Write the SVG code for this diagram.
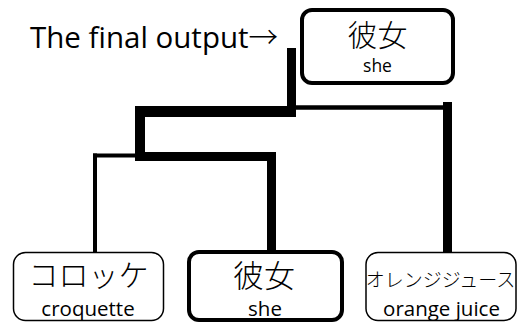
<svg xmlns="http://www.w3.org/2000/svg" width="517" height="323" viewBox="0 0 517 323">
<style>
text{font-family:"Open Sans","Noto Sans","Noto Sans CJK JP",sans-serif;font-weight:400;fill:#000;text-anchor:middle}
.jp{font-family:"Noto Sans CJK JP",sans-serif;font-weight:300}
.thin{fill:#fff;stroke:#000;stroke-width:1.5}
.bold{fill:#fff;stroke:#000;stroke-width:4}
.c{stroke:#000;fill:none;stroke-linecap:butt}
</style>
<rect width="517" height="323" fill="#fff"/>
<text x="30" y="48" font-size="29.5" style="text-anchor:start">The final output<tspan class="jp">→</tspan></text>
<g id="connectors">
<line class="c" x1="291.5" y1="48" x2="291.5" y2="117" stroke-width="9"/>
<line class="c" x1="135" y1="111.5" x2="296" y2="111.5" stroke-width="11"/>
<line class="c" x1="296" y1="107.5" x2="452" y2="107.5" stroke-width="4.5"/>
<line class="c" x1="447.5" y1="102" x2="447.5" y2="252" stroke-width="9"/>
<line class="c" x1="140" y1="106" x2="140" y2="161" stroke-width="10"/>
<line class="c" x1="135" y1="156.5" x2="276" y2="156.5" stroke-width="9"/>
<line class="c" x1="271.5" y1="152" x2="271.5" y2="252" stroke-width="9"/>
<line class="c" x1="93" y1="155.5" x2="135" y2="155.5" stroke-width="4"/>
<line class="c" x1="95" y1="153.5" x2="95" y2="253" stroke-width="4"/>
</g>
<g id="root">
<rect class="bold" x="302" y="10" width="151" height="73" rx="10"/>
<text class="jp" x="377.5" y="46" font-size="30">彼女</text>
<text x="377.5" y="72" font-size="17.5">she</text>
</g>
<g id="croquette">
<rect class="thin" x="13.5" y="252.5" width="150" height="68" rx="12"/>
<text class="jp" x="88.5" y="286" font-size="30">コロッケ</text>
<text x="88" y="316" font-size="20.5">croquette</text>
</g>
<g id="she">
<rect class="bold" x="189" y="252" width="153" height="68" rx="10"/>
<text class="jp" x="264" y="287" font-size="31">彼女</text>
<text x="265" y="316" font-size="20.5">she</text>
</g>
<g id="juice">
<rect class="thin" x="366" y="252.5" width="150" height="68" rx="12"/>
<text class="jp" x="440.5" y="287" font-size="19">オレンジジュース</text>
<text x="441.5" y="316" font-size="20.5">orange juice</text>
</g>
</svg>
